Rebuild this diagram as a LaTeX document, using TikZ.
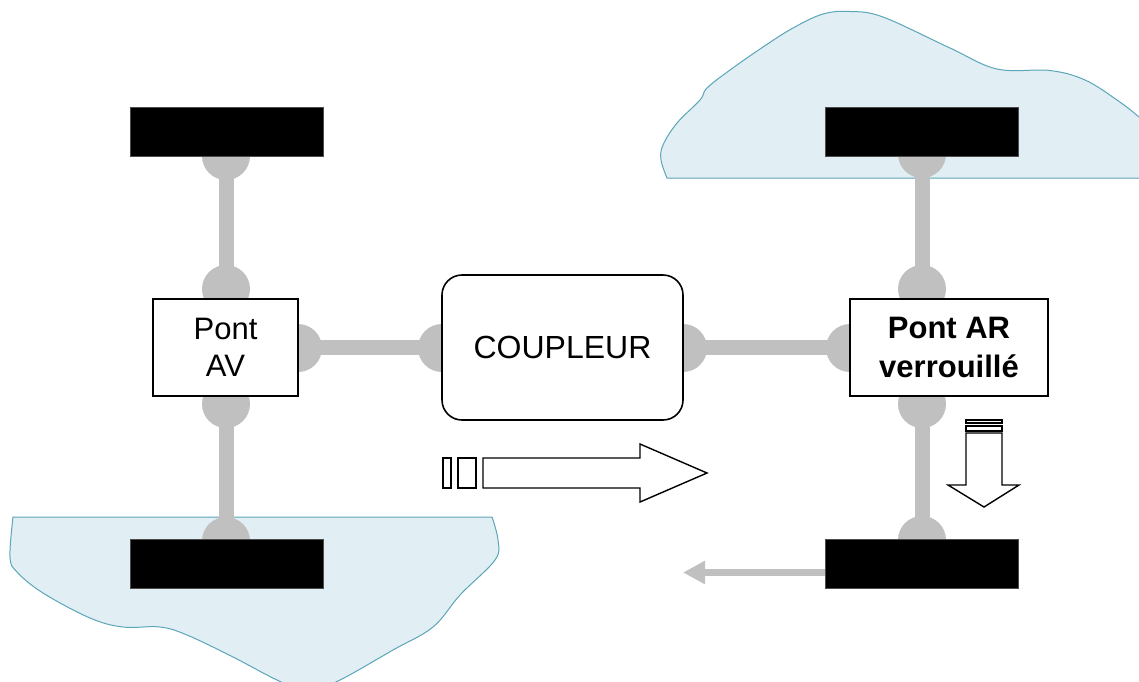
\documentclass[tikz,border=0pt]{standalone}
\usepackage{fontspec}
\setmainfont{Liberation Sans}
\usetikzlibrary{arrows.meta}
\definecolor{blobfill}{HTML}{E1EEF3}
\definecolor{blobline}{HTML}{5BA6B8}
\definecolor{shaftgray}{HTML}{C0C0C0}
\pgfdeclarelayer{groundlayer}
\pgfdeclarelayer{shaftlayer}
\pgfsetlayers{groundlayer,shaftlayer,main}
\tikzset{
  blob/.style={fill=blobfill,draw=blobline,line width=1pt},
  shaft/.style={draw=shaftgray,line width=15pt},
  joint/.style={circle,fill=shaftgray,minimum size=48pt,inner sep=0pt},
  wheel/.style={rectangle,fill=black,draw=black!70,line width=0.5pt,minimum width=193pt,minimum height=49pt,inner sep=0pt},
  unitbox/.style={rectangle,draw=black,fill=white,line width=1.6pt,inner sep=0pt,align=center,font=\fontsize{31}{37}\selectfont},
  hollowarrow/.style={draw=black,fill=white,line width=1.4pt,line join=miter},
  grayarrow/.style={draw=shaftgray,line width=7pt,-{Triangle[length=22pt,width=22pt]}}
}
\begin{document}
\begin{tikzpicture}[x=1pt,y=-1pt]
\useasboundingbox (0,0) rectangle (1139,681);
\clip (0,0) rectangle (1139,681);
% wheels and units (main layer, above shafts and joints)
\node[wheel] (w1) at (226.5,131.5) {};
\node[wheel] (w2) at (226.5,564) {};
\node[wheel] (w3) at (922,132) {};
\node[wheel] (w4) at (922,564) {};
\node[unitbox,minimum width=145pt,minimum height=97pt] (av) at (225.5,347.5) {Pont\\AV};
\node[unitbox,rounded corners=20pt,minimum width=241pt,minimum height=145pt,font=\fontsize{32}{38}\selectfont] (coup) at (562.5,347.5) {COUPLEUR};
\node[unitbox,minimum width=198pt,minimum height=97pt,font=\fontsize{31}{39}\selectfont\bfseries] (ar) at (949,347.5) {Pont AR\\verrouillé};
% ground blobs
\begin{pgfonlayer}{groundlayer}
\fill[white] (0,0) rectangle (1139,681);
\draw[blob] (13,517) -- (492,517) -- plot[smooth,tension=0.6] coordinates {(492,517) (498,540) (495,560) (460,595) (433,627) (393,650) (340,680) (308,692) (277,680) (233,657) (187,635) (160,627) (123,627) (90,618) (43,593) (17,572) (10,557) (13,517)} -- cycle;
\draw[blob] (1150,178) -- (667,178) -- plot[smooth,tension=0.6] coordinates {(667,178) (661,160) (663,145) (677,123) (700,100) (707,88) (730,70) (763,47) (793,28) (823,14) (850,11.5) (883,17) (950,48) (997,69) (1050,70.5) (1085,80) (1117,100) (1139,117) (1152,130)} -- (1152,178) -- cycle;
\end{pgfonlayer}
% shafts and joints
\begin{pgfonlayer}{shaftlayer}
\draw[shaft] (w1.center) -- (w2.center);
\draw[shaft] (w3.center) -- (w4.center);
\draw[shaft] (av.center) -- (coup.center);
\draw[shaft] (coup.center) -- (ar.center);
\node[joint] (j1) at (226,156) {};
\node[joint] (j2) at (226,289) {};
\node[joint] (j3) at (226,404) {};
\node[joint] (j4) at (226,541) {};
\node[joint] (j5) at (298,348) {};
\node[joint] (j6) at (442,348) {};
\node[joint] (j7) at (683,348) {};
\node[joint] (j8) at (850,348) {};
\node[joint] (j9) at (922,154) {};
\node[joint] (j10) at (922,289) {};
\node[joint] (j11) at (922,404) {};
\node[joint] (j12) at (922,540) {};
\end{pgfonlayer}
% hollow arrow to the right
\draw[hollowarrow] (443,458) rectangle (451,488);
\draw[hollowarrow] (458,458) rectangle (476,488);
\draw[hollowarrow] (483,458) -- (640,458) -- (640,444) -- (707,473) -- (640,502) -- (640,488) -- (483,488) -- cycle;
% hollow arrow downwards
\draw[hollowarrow] (966,420) rectangle (1002,423);
\draw[hollowarrow] (966,426) rectangle (1002,431);
\draw[hollowarrow] (966,433) -- (1002,433) -- (1002,485) -- (1019,485) -- (984,507) -- (948,485) -- (966,485) -- cycle;
% gray force arrow
\coordinate (gstart) at (w4.west |- 0,572.5);
\coordinate (gend) at (683,572.5);
\draw[grayarrow] (gstart) -- (gend);
\end{tikzpicture}
\end{document}
